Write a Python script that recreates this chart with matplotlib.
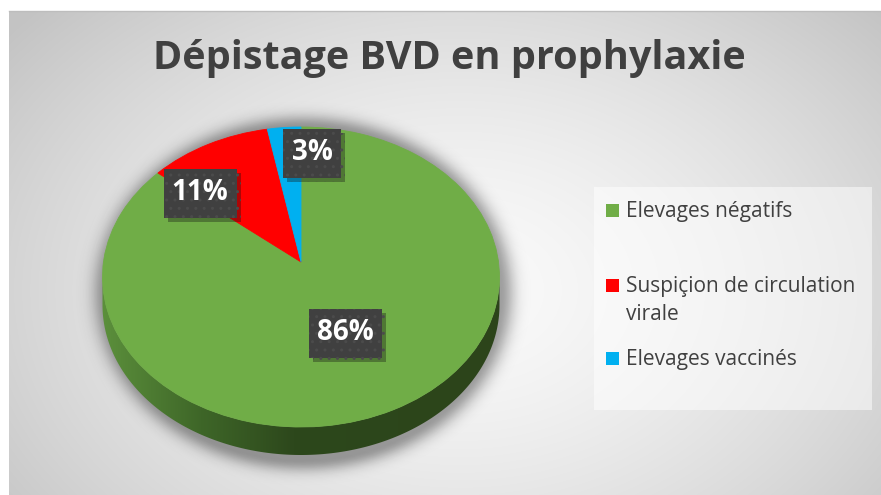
import numpy as np
import matplotlib
matplotlib.use("Agg")
import matplotlib.pyplot as plt
import matplotlib.transforms as mtransforms
import matplotlib.patheffects as pe
from matplotlib.patches import Polygon, Rectangle

plt.rcParams['font.family'] = ['Open Sans', 'DejaVu Sans']
plt.rcParams['hatch.linewidth'] = 1.0

# data
title = "Dépistage BVD en prophylaxie"
categories = ["Elevages négatifs", "Suspiçion de circulation\nvirale", "Elevages vaccinés"]
values = [86, 11, 3]
colors = ["#70AD47", "#FF0000", "#00B0F0"]

W, H = 881, 495
fig = plt.figure(figsize=(W / 100, H / 100), dpi=100, facecolor="white")
ax = fig.add_axes([0, 0, 1, 1])

# background radial gradient (chart area)
yy, xx = np.mgrid[0:H, 0:W]
d = np.sqrt(((xx - 460) / 560.0) ** 2 + ((yy - 290) / 400.0) ** 2)
bg = np.clip(250 - 52 * d ** 1.5, 195, 252) / 255.0
bg_img = np.dstack([bg, bg, bg])
bg_img[:11, :, :] = 1.0
bg_img[:, :9, :] = 1.0
ax.imshow(bg_img, extent=[0, W, 0, H], origin="upper", aspect="auto", zorder=0)
ax.plot([9, W], [H - 11, H - 11], color="#bdbdbd", lw=1, zorder=0.5)

# pie geometry (pixels, y from bottom); apex of the pie
cx, cy = 301, H - 262
R = 198.5
persp = 0.1          # perspective strength
sx, sy = 197.5, 148.5
depth = 28


class Perspective(mtransforms.Transform):
    """maps a flat circle (center cx,cy radius R) onto a tilted disc"""
    input_dims = output_dims = 2

    def transform_non_affine(self, xy):
        xy = np.asarray(xy, dtype=float).reshape(-1, 2)
        u = (xy[:, 0] - cx) / R
        v = (xy[:, 1] - cy) / R
        den = 1 + persp * v
        return np.column_stack([cx + sx * u / den, cy + sy * v / den])


proj = Perspective()

# soft shadow under the pie
ds = np.sqrt(((xx - 303) / 205.0) ** 2 + ((yy - 293) / 173.0) ** 2)
sh_alpha = 0.36 * np.exp(-np.clip(ds - 0.96, 0, None) ** 2 / (2 * 0.05 ** 2))
sh = np.zeros((H, W, 4))
sh[..., 3] = sh_alpha
ax.imshow(sh, extent=[0, W, 0, H], origin="upper", aspect="auto", zorder=1)

# side of the 3D pie (front half of the rim)
t = np.linspace(np.pi + np.arcsin(persp), 2 * np.pi - np.arcsin(persp), 200)
rim = proj.transform(np.column_stack([cx + R * np.cos(t), cy + R * np.sin(t)]))
side_xy = np.vstack([rim, rim[::-1] - [0, depth]])
side = Polygon(side_xy, closed=True, fc="none", ec="none", zorder=2)
ax.add_patch(side)
gx = np.linspace(0, 1, 400)
stops_x = [0.0, 0.25, 0.48, 1.0]
stops_c = np.array([[92, 144, 60], [62, 102, 40], [45, 72, 28], [44, 68, 26]]) / 255.0
grad = np.column_stack([np.interp(gx, stops_x, stops_c[:, i]) for i in range(3)])
grad = np.repeat(grad[None, :, :], 2, axis=0)
im = ax.imshow(grad, extent=[rim[:, 0].min() - 2, rim[:, 0].max() + 2,
                             rim[:, 1].min() - depth - 2, rim[:, 1].max() + 2],
               aspect="auto", zorder=2)
im.set_clip_path(side)

# top face
wedges, _ = ax.pie(values, colors=colors, startangle=90, counterclock=False,
                   center=(cx, cy), radius=R, frame=True,
                   wedgeprops=dict(linewidth=0.6))
for w in wedges:
    w.set_edgecolor(w.get_facecolor())
    w.set_transform(proj + ax.transData)
    w.set_zorder(3)

# data labels
label_pos = [(345, 333), (200, 193), (312, 153)]
for v, (lx, ly) in zip(values, label_pos):
    txt = f"{v}%"
    bw, bh = 28 + 15 * len(txt), 49
    box = Rectangle((lx - bw / 2, H - ly - bh / 2), bw, bh, fc="#404040",
                    ec="#4b4b4b", lw=0, hatch="..", zorder=4)
    box.set_path_effects([pe.SimplePatchShadow(offset=(3, -3), alpha=0.35),
                          pe.Normal()])
    ax.add_patch(box)
    ax.text(lx, H - ly, txt, ha="center", va="center", fontsize=20,
            fontweight="bold", color="white", zorder=5)

# title
ax.text(449, H - 69, title, ha="center", va="baseline", fontsize=28.5,
        fontweight="bold", color="#404040", zorder=5)

# legend
ax.add_patch(Rectangle((594, H - 410), 278, 223, fc="white", alpha=0.5,
                       ec="none", zorder=2))
legend_base = [217, 292, 365]
for name, col, yb in zip(categories, colors, legend_base):
    ax.add_patch(Rectangle((606, H - yb), 13, 13, fc=col, ec="none", zorder=3))
    nl = name.count("\n")
    ax.text(626, H - yb - 28 * nl, name, ha="left", va="baseline", fontsize=15,
            color="#404040", linespacing=1.45, zorder=3)

ax.set_aspect("auto")
ax.set_xlim(0, W)
ax.set_ylim(0, H)
ax.axis("off")

fig.savefig("out.png", dpi=100, facecolor="white")
